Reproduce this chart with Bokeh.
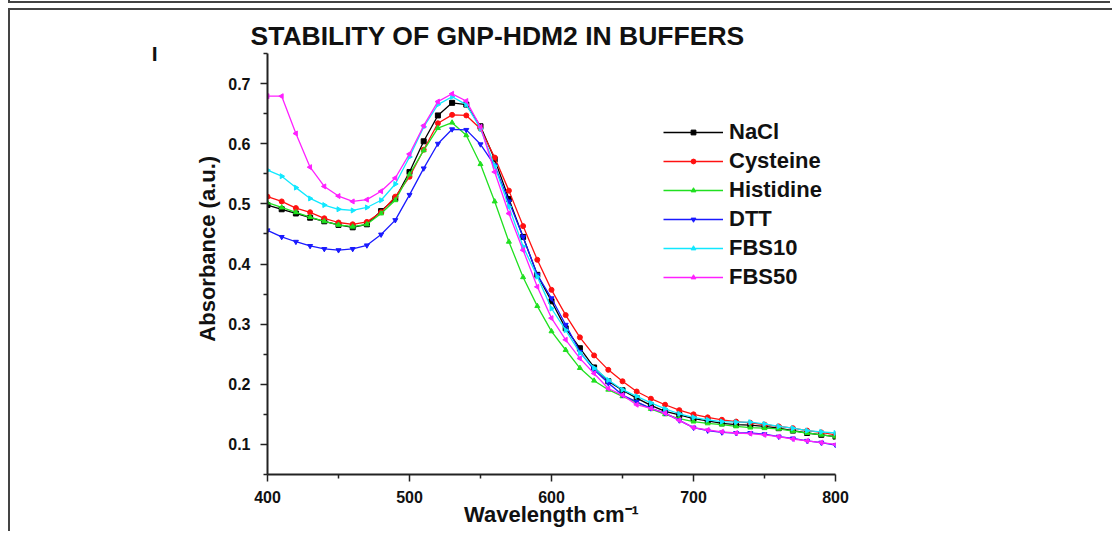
from bokeh.plotting import figure
from bokeh.models import Legend, LegendItem, FixedTicker, Range1d, LinearAxis, Div
from bokeh.layouts import column
from bokeh.embed import file_html
from bokeh.resources import INLINE

wavelength = list(range(400, 801, 10))

nacl = [0.498, 0.491, 0.484, 0.477, 0.471, 0.465, 0.461, 0.466, 0.488, 0.509,
        0.553, 0.604, 0.647, 0.668, 0.665, 0.629, 0.574, 0.508, 0.445, 0.382,
        0.338, 0.293, 0.260, 0.228, 0.205, 0.190, 0.177, 0.165, 0.155, 0.149,
        0.143, 0.139, 0.135, 0.133, 0.132, 0.130, 0.127, 0.123, 0.119, 0.116, 0.113]
cysteine = [0.512, 0.504, 0.493, 0.486, 0.476, 0.469, 0.466, 0.470, 0.486, 0.512,
            0.545, 0.590, 0.634, 0.648, 0.647, 0.625, 0.577, 0.522, 0.463, 0.407,
            0.357, 0.315, 0.278, 0.248, 0.224, 0.205, 0.188, 0.176, 0.166, 0.157,
            0.150, 0.145, 0.141, 0.138, 0.136, 0.133, 0.130, 0.127, 0.123, 0.120, 0.116]
histidine = [0.502, 0.494, 0.486, 0.478, 0.471, 0.465, 0.462, 0.466, 0.484, 0.506,
             0.549, 0.589, 0.626, 0.635, 0.614, 0.566, 0.504, 0.437, 0.378, 0.330,
             0.288, 0.257, 0.227, 0.206, 0.191, 0.180, 0.170, 0.159, 0.150, 0.143,
             0.138, 0.135, 0.133, 0.130, 0.128, 0.127, 0.126, 0.122, 0.119, 0.116, 0.113]
dtt = [0.456, 0.445, 0.437, 0.430, 0.425, 0.423, 0.425, 0.431, 0.449, 0.473,
       0.515, 0.559, 0.600, 0.624, 0.623, 0.599, 0.564, 0.504, 0.445, 0.382,
       0.343, 0.299, 0.254, 0.224, 0.202, 0.182, 0.171, 0.160, 0.152, 0.140,
       0.128, 0.123, 0.120, 0.119, 0.119, 0.117, 0.113, 0.110, 0.106, 0.103, 0.099]
fbs10 = [0.556, 0.546, 0.527, 0.509, 0.498, 0.491, 0.489, 0.494, 0.506, 0.533,
         0.578, 0.628, 0.665, 0.678, 0.665, 0.625, 0.563, 0.495, 0.429, 0.379,
         0.326, 0.290, 0.252, 0.227, 0.207, 0.191, 0.180, 0.169, 0.159, 0.151,
         0.145, 0.141, 0.138, 0.137, 0.137, 0.134, 0.130, 0.127, 0.123, 0.121, 0.119]
fbs50 = [0.679, 0.679, 0.617, 0.561, 0.529, 0.513, 0.504, 0.507, 0.521, 0.543,
         0.583, 0.630, 0.670, 0.683, 0.671, 0.628, 0.553, 0.484, 0.423, 0.362,
         0.310, 0.274, 0.243, 0.218, 0.193, 0.182, 0.166, 0.160, 0.152, 0.140,
         0.128, 0.124, 0.121, 0.119, 0.118, 0.116, 0.113, 0.109, 0.106, 0.103, 0.100]

names = ["NaCl", "Cysteine", "Histidine", "DTT", "FBS10", "FBS50"]
series = [nacl, cysteine, histidine, dtt, fbs10, fbs50]
colors = ["#000000", "#ff1010", "#20e020", "#1a1aff", "#10e8ff", "#ff20ff"]
markers = ["square", "circle", "triangle", "inverted_triangle", "triangle", "triangle"]
angles = [0, 0, 0, 0, -1.5708, 1.5708]

x_major = [400, 500, 600, 700, 800]
x_minor = [450, 550, 650, 750]
y_major = [0.1, 0.2, 0.3, 0.4, 0.5, 0.6, 0.7]
y_minor = [0.05, 0.15, 0.25, 0.35, 0.45, 0.55, 0.65, 0.75]

FONT = "Liberation Sans"
INK = "#111111"
NB = "\u00a0"

p = figure(width=1102, height=521, x_range=Range1d(400, 800), y_range=Range1d(0.05, 0.75),
           output_backend="svg", toolbar_location=None,
           min_border_left=257, min_border_right=277, min_border_top=43, min_border_bottom=57)
p.grid.visible = False
p.outline_line_color = None

p.title.text = "STABILITY OF GNP-HDM2 IN BUFFERS"
p.title.align = "left"
p.title.offset = -17
p.title.standoff = 6
p.title.text_font = FONT
p.title.text_font_style = "bold"
p.title.text_font_size = "26.5px"
p.title.text_color = INK

for ax in (p.xaxis[0], p.yaxis[0]):
    ax.axis_line_width = 2
    ax.axis_line_color = "#222222"
    ax.major_tick_line_color = "#222222"
    ax.minor_tick_line_color = "#222222"
    ax.major_tick_line_width = 1.5
    ax.minor_tick_line_width = 1.5
    ax.major_tick_out = 7
    ax.major_tick_in = 0
    ax.minor_tick_out = 4
    ax.minor_tick_in = 0
    ax.major_label_text_font = FONT
    ax.major_label_text_font_style = "bold"
    ax.major_label_text_font_size = "16px"
    ax.major_label_text_color = INK
    ax.axis_label_text_font = FONT
    ax.axis_label_text_font_style = "bold"
    ax.axis_label_text_font_size = "22px"
    ax.axis_label_text_color = INK

p.xaxis[0].ticker = FixedTicker(ticks=x_major, minor_ticks=x_minor)
p.yaxis[0].ticker = FixedTicker(ticks=y_major, minor_ticks=y_minor)
p.xaxis[0].major_label_standoff = 9
p.yaxis[0].major_label_standoff = 10
p.xaxis[0].axis_label = "Wavelength cm\u207b\u00b9"
p.xaxis[0].axis_label_standoff = -4
p.yaxis[0].axis_label = NB * 5 + "Absorbance (a.u.)"
p.yaxis[0].axis_label_standoff = 5

# panel letter "I" as the label of a bare extra left axis
tag = LinearAxis(ticker=FixedTicker(ticks=[]), axis_label="I",
                 axis_line_color=None, major_tick_line_color=None, minor_tick_line_color=None,
                 axis_label_text_font=FONT, axis_label_text_font_style="bold",
                 axis_label_text_font_size="21px", axis_label_text_color=INK,
                 axis_label_standoff=35)
try:
    tag.axis_label_orientation = "horizontal"
    tag.axis_label_align = "end"
except Exception:
    pass
p.add_layout(tag, "left")

items = []
for name, ys, c, m, a in zip(names, series, colors, markers, angles):
    r1 = p.line(wavelength, ys, line_color=c, line_width=1.3)
    r2 = p.scatter(wavelength, ys, marker=m, angle=a, size=5, fill_color=c, line_color=c)
    items.append(LegendItem(label=name, renderers=[r1, r2]))

legend = Legend(items=items, location=(396, 183), glyph_width=60, glyph_height=12,
                label_height=29, label_standoff=6, spacing=0, padding=0, margin=0,
                label_text_font=FONT, label_text_font_style="bold",
                label_text_font_size="22px", label_text_color=INK,
                background_fill_alpha=0, border_line_alpha=0)
p.add_layout(legend, "center")

top_rule = Div(text="", width=1102, height=3, margin=(0, 0, 0, 8),
               styles={"border-bottom": "2px solid #444444", "border-left": "2px solid #444444"})
panel = column(p, margin=(5, 0, 0, 8),
               styles={"border-top": "2px solid #444444", "border-left": "2px solid #444444"})
layout = column(top_rule, panel, margin=0, spacing=0)

open("out.html", "w").write(file_html(layout, INLINE))
